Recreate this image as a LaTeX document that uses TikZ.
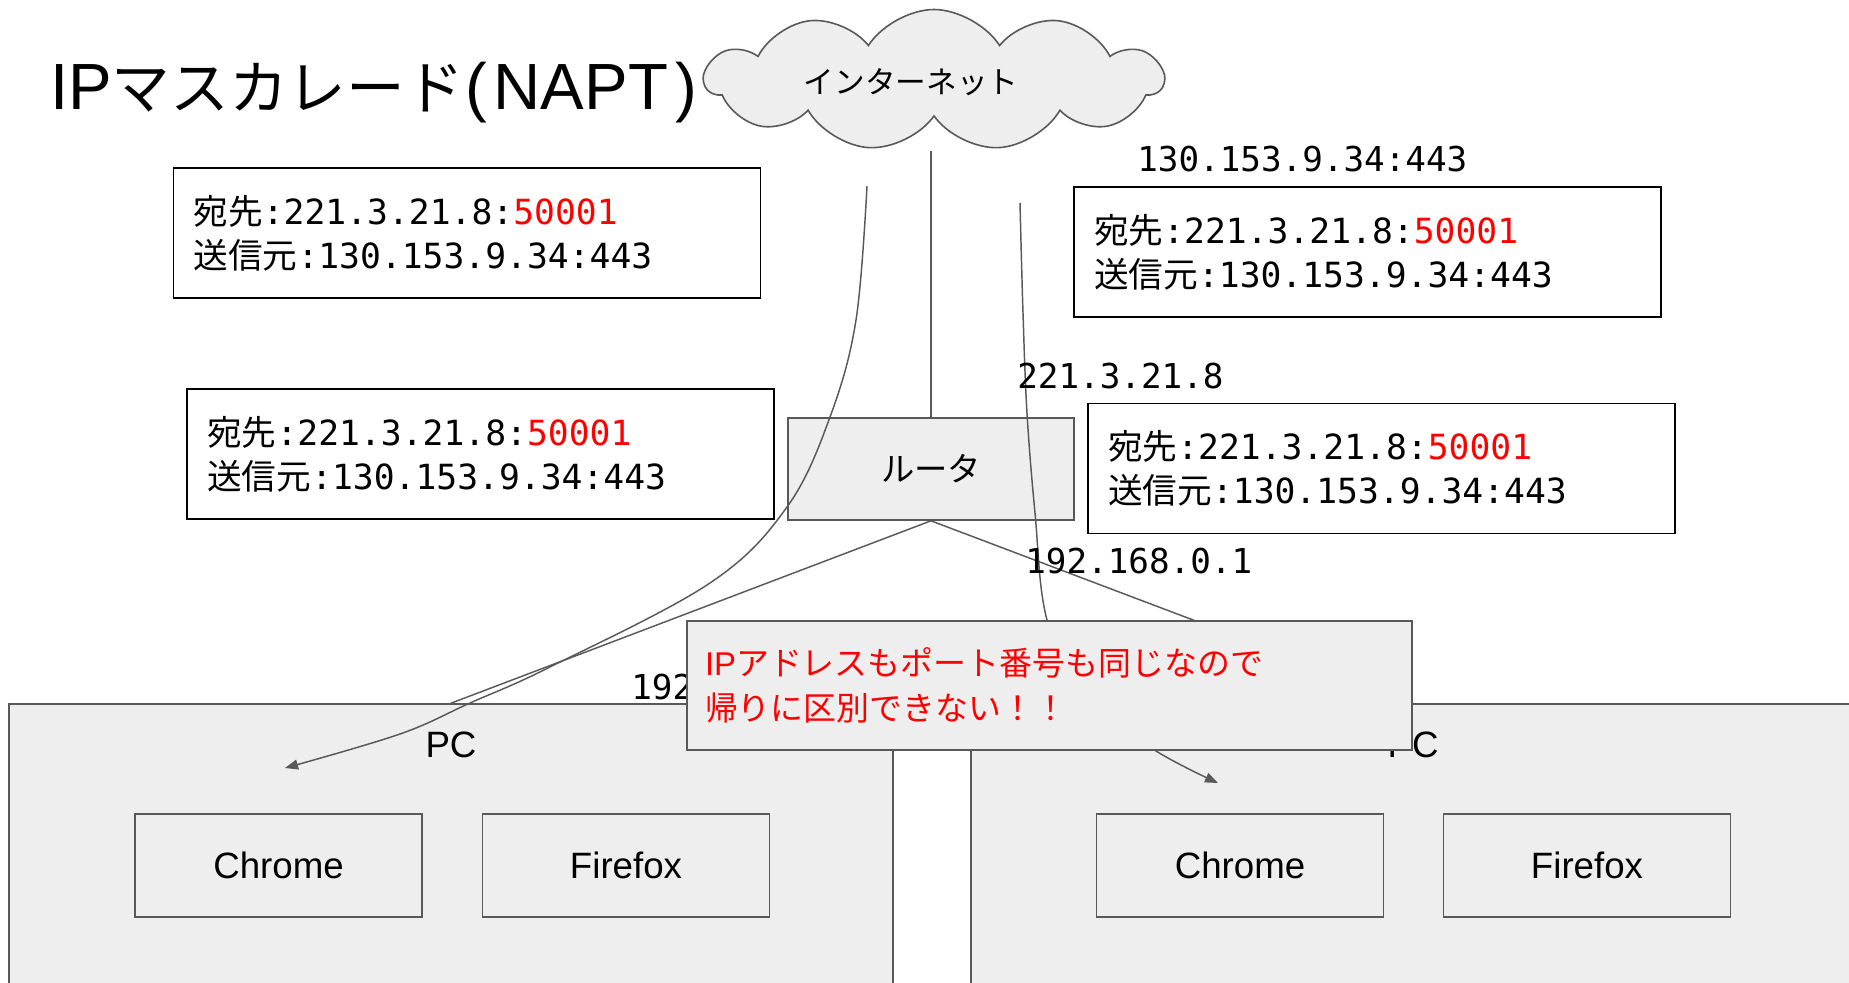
\documentclass[tikz,border=0pt]{standalone}
\usepackage{fontspec}
\setmainfont{Liberation Sans}
\newfontfamily\jp{Noto Sans CJK JP}
\newfontfamily\mono{DejaVu Sans Mono}
\usetikzlibrary{shapes.symbols,arrows.meta}
\definecolor{lg}{HTML}{EEEEEE}
\definecolor{dg}{HTML}{595959}
\definecolor{rd}{HTML}{FF0000}
\newcommand\pktext{{\jp 宛先}{\mono :221.3.21.8:\textcolor{rd}{50001}}\\{\jp 送信元}{\mono :130.153.9.34:443}}
\begin{document}
\begin{tikzpicture}[x=0.75pt,y=-0.75pt,
  pkt/.style={draw=black, line width=1.3pt, fill=white, minimum width=440.25pt, minimum height=97.5pt,
    text width=410.25pt, inner xsep=15pt, inner ysep=0pt, align=left, font=\fontsize{26}{33}\selectfont},
  gbox/.style={draw=dg, line width=1.2pt, fill=lg},
  appbox/.style={gbox, minimum width=215.25pt, minimum height=77.25pt, font=\fontsize{27.5}{33}\selectfont},
  lbl/.style={anchor=base west, inner sep=0pt, font=\fontsize{25.7}{33}\selectfont\mono},
  conn/.style={draw=dg, line width=1.1pt},
  arr/.style={conn, -{Triangle[length=9.75pt,width=7.5pt]}}]
\useasboundingbox (0,0) rectangle (1849,982);
\clip (0,0) rectangle (1849,982);

% PC boxes
\node[gbox, minimum width=663pt, minimum height=225pt] (pcL) at (451,854) {};
\node[gbox, minimum width=663pt, minimum height=225pt] (pcR) at (1413,854) {};
\node[font=\fontsize{27.5}{33}\selectfont] (pcLt) at (451,745) {PC};
\node[font=\fontsize{27.5}{33}\selectfont] (pcRt) at (1413,745) {PC};
\node[appbox] (chL) at (278.5,865.5) {Chrome};
\node[appbox] (ffL) at (626,865.5) {Firefox};
\node[appbox] (chR) at (1240,865.5) {Chrome};
\node[appbox] (ffR) at (1587,865.5) {Firefox};

% title
\node[anchor=base west, inner sep=0pt, font=\fontsize{49}{56}\selectfont] (title) at (50,109)
  {IP{\jp\fontsize{44}{50}\selectfont マスカレード}\hspace{1pt}(\hspace{5pt}NAPT\hspace{6pt})};

% packet boxes
\node[pkt] (pA) at (467,233) {\pktext};
\node[pkt] (pB) at (480.75,454) {\pktext};
\node[pkt] (pC) at (1367.5,252) {\pktext};
\node[pkt] (pD) at (1381.5,468.5) {\pktext};

% cloud and router
\node[cloud, cloud puffs=11, cloud puff arc=115, cloud ignores aspect, draw=dg, line width=1.2pt, fill=lg,
  minimum width=343.5pt, minimum height=105.75pt] (cloud) at (934,80) {};
\node[font=\fontsize{23}{28}\selectfont\jp] (cloudt) at (911,82) {インターネット};
\node[gbox, minimum width=214.5pt, minimum height=76.5pt, font=\fontsize{25}{30}\selectfont\jp] (router) at (931,469) {ルータ};

% connectors
\coordinate (cb) at (931,151);
\draw[conn] (cb) -- (router.north);
\draw[conn] (router.south) -- (pcL.north);
\draw[conn] (router.south) -- (pcR.north);

\coordinate (l0) at (867,186);
\coordinate (l1) at (285,768);
\draw[arr] plot[smooth, tension=0.6] coordinates {(l0) (856,320) (830,417) (787,507) (710,583) (550,667) (470,703) (400,734) (l1)};
\coordinate (r0) at (1020,203);
\coordinate (r1) at (1218,783);
\draw[arr] plot[smooth, tension=0.6] coordinates {(r0) (1023,313) (1027,413) (1035,513) (1047,620) (1085,700) (1156,751) (r1)};

% address labels
\node[lbl] (ip1) at (1137,171) {130.153.9.34:443};
\node[lbl] (ip2) at (1017,388) {221.3.21.8};
\node[lbl] (ip3) at (1025,573) {192.168.0.1};
\node[lbl] (ip4) at (631,699) {192};

% note
\node[gbox, minimum width=543.75pt, minimum height=96.75pt, text width=516.75pt, inner xsep=13.5pt, inner ysep=0pt,
  align=left, text=rd, font=\fontsize{24.7}{33.75}\selectfont] (note) at (1049.5,685.5)
  {IP{\jp アドレスもポート番号も同じなので}\\{\jp 帰りに区別できない！！}};
\end{tikzpicture}
\end{document}
